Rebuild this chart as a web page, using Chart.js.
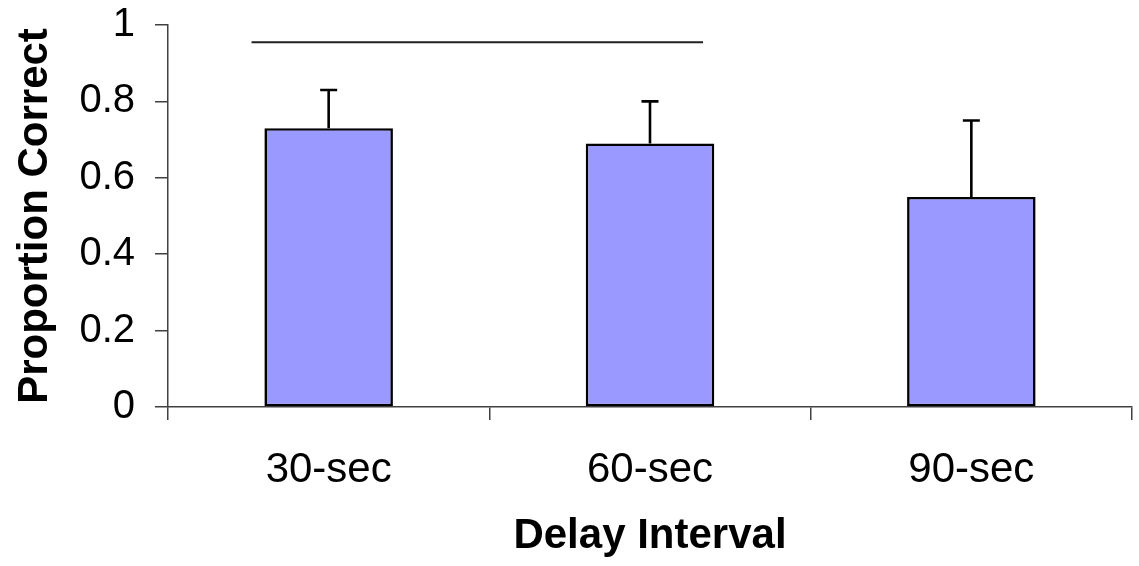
<!DOCTYPE html>
<html>
<head>
<meta charset="utf-8">
<script src="https://cdn.jsdelivr.net/npm/chart.js@4/dist/chart.umd.min.js"></script>
<style>
  html, body { margin: 0; padding: 0; background: #ffffff; }
  #wrap { width: 1139px; height: 566px; position: relative; }
</style>
</head>
<body>
<div id="wrap"><canvas id="c" width="1139" height="566"></canvas></div>
<script>
// Delay conditions and mean proportion correct
const categories = ['30-sec', '60-sec', '90-sec'];
const meanCorrect = [0.73, 0.69, 0.55];
// Upper error (SEM) for each condition
const errorUp = [0.10, 0.11, 0.20];
// Y axis ticks
const yTicks = [0, 0.2, 0.4, 0.6, 0.8, 1];
// Comparison bracket: spans from 30-sec to 60-sec, drawn in category-index units
const bracketFrom = [-0.24];
const bracketTo = [1.165];
const bracketLevel = [0.955];

const FONT = 'Liberation Sans, Arial, Helvetica, sans-serif';
const AXIS_COLOR = '#404040';

const overlay = {
  id: 'overlay',
  afterDatasetsDraw(chart) {
    const ctx = chart.ctx;
    const x = chart.scales.x, y = chart.scales.y;
    ctx.save();
    ctx.strokeStyle = '#000';
    ctx.lineWidth = 2.6;
    ctx.lineCap = 'butt';
    // upward error bars with caps
    meanCorrect.forEach((v, i) => {
      const px = x.getPixelForValue(i);
      const y0 = y.getPixelForValue(v);
      const y1 = y.getPixelForValue(v + errorUp[i]);
      ctx.beginPath();
      ctx.moveTo(px, y0);
      ctx.lineTo(px, y1);
      ctx.moveTo(px - 8.5, y1);
      ctx.lineTo(px + 8.5, y1);
      ctx.stroke();
    });
    // horizontal comparison line
    ctx.strokeStyle = '#202020';
    ctx.lineWidth = 2;
    bracketLevel.forEach((lv, k) => {
      const yy = y.getPixelForValue(lv);
      ctx.beginPath();
      ctx.moveTo(x.getPixelForValue(bracketFrom[k]), yy);
      ctx.lineTo(x.getPixelForValue(bracketTo[k]), yy);
      ctx.stroke();
    });
    ctx.restore();
  }
};

new Chart(document.getElementById('c'), {
  type: 'bar',
  data: {
    labels: categories,
    datasets: [{
      data: meanCorrect,
      backgroundColor: '#9999FF',
      borderColor: '#000000',
      borderWidth: 2.6,
      borderSkipped: false,
      barPercentage: 0.4,
      categoryPercentage: 1.0
    }]
  },
  options: {
    responsive: false,
    animation: false,
    devicePixelRatio: 1,
    layout: { padding: { left: 0, right: 7, top: 25, bottom: 0 } },
    plugins: {
      legend: { display: false },
      tooltip: { enabled: false }
    },
    scales: {
      x: {
        grid: {
          display: true,
          drawOnChartArea: false,
          drawTicks: true,
          tickLength: 13,
          color: AXIS_COLOR,
          lineWidth: 1.5,
          offset: true
        },
        border: { display: true, color: AXIS_COLOR, width: 1.5 },
        ticks: {
          color: '#000',
          font: { family: FONT, size: 42 },
          padding: 25,
          maxRotation: 0
        },
        title: {
          display: true,
          text: 'Delay Interval',
          color: '#000',
          font: { family: FONT, size: 42, weight: 'bold' },
          padding: { top: 10, bottom: 4 }
        },
        afterFit(scale) { scale.height = 159; }
      },
      y: {
        min: 0,
        max: 1,
        afterBuildTicks(scale) { scale.ticks = yTicks.map(v => ({ value: v })); },
        grid: {
          display: true,
          drawOnChartArea: false,
          drawTicks: true,
          tickLength: 13,
          color: AXIS_COLOR,
          lineWidth: 1.5
        },
        border: { display: true, color: AXIS_COLOR, width: 1.5 },
        ticks: {
          color: '#000',
          font: { family: FONT, size: 40 },
          padding: 20,
          callback: v => String(v)
        },
        title: {
          display: true,
          text: 'Proportion Correct',
          color: '#000',
          font: { family: FONT, size: 42, weight: 'bold' },
          padding: { top: 10, bottom: 0 }
        },
        afterFit(scale) {
          scale.width = 168;
          scale.paddingTop = 0;
          scale.paddingBottom = 0;
        }
      }
    }
  },
  plugins: [overlay]
});
</script>
</body>
</html>
